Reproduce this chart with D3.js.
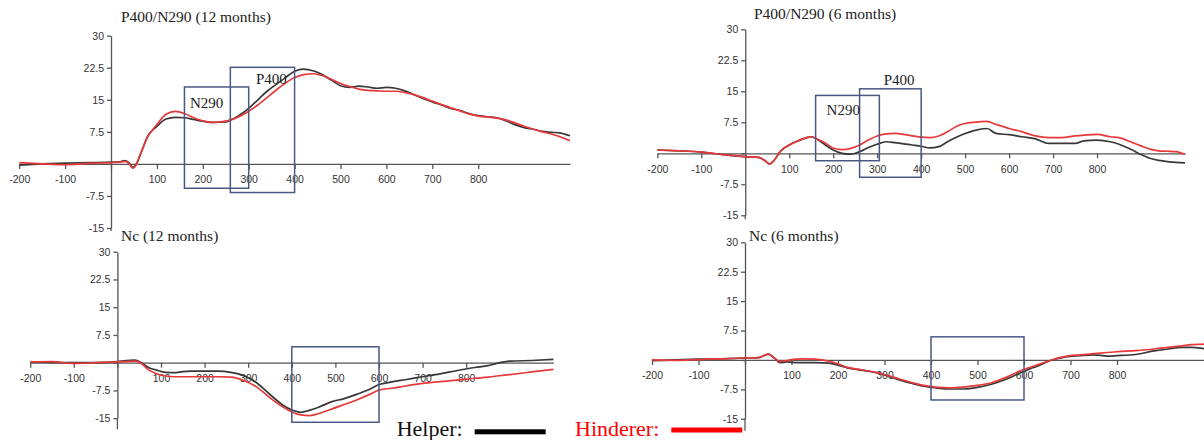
<!DOCTYPE html>
<html>
<head>
<meta charset="utf-8">
<script src="https://cdn.jsdelivr.net/npm/d3@7"></script>
<style>
body{margin:0;background:#fff;}
svg{display:block;}
</style>
</head>
<body>
<div id="chart"></div>
<script>

///////////////////////////////////////////////////////////////////////
// data (ms / microvolt)

let timeP12 = [-200,-150,-100,-50,0,20,30,40,47,55,65,80,100,120,140,160,180,200,220,250,260,280,300,320,340,360,380,400,
               420,440,460,480,500,520,540,560,580,600,620,640,660,680,700,720,740,760,780,800,820,840,860,880,900,920,940,960,980,1000];
let helperP12 = [-0.3,0,0.2,0.3,0.4,0.5,0.8,0.2,-0.8,0,2.5,6.5,8.8,10.5,10.9,10.8,10.4,10,9.7,9.8,10.2,11.4,13,15,17,18.6,20.2,21.7,
                 22.2,21.8,20.9,19.6,18.3,17.9,18.2,18,17.7,17.9,17.7,17.1,16.2,15.3,14.5,13.8,13,12.5,11.8,11.3,11,10.8,10.1,9.2,8.5,8.1,7.6,7.4,7.2,6.6];
let hindererP12 = [0.3,0,-0.2,0.1,0.3,0.4,0.6,0,-1,-0.2,2.5,6.3,9.2,11.6,12.3,11.8,10.8,10.1,9.7,10,10.3,11.1,12.3,13.8,15.5,17.3,18.9,20.2,
                   20.9,21.1,20.7,19.8,18.8,18.1,17.5,17.2,17.1,17,17,16.7,16.2,15.5,14.7,13.9,13.1,12.4,11.7,11.2,11,10.7,10.3,9.6,8.8,8.1,7.5,7,6.3,5.4];

let timeP6 = [-200,-150,-100,-50,0,30,45,55,65,80,100,120,140,150,165,180,200,220,240,260,280,300,320,340,360,380,400,420,440,460,480,500,520,
              550,570,600,630,660,690,720,750,770,800,830,850,880,900,920,940,960,980,1000];
let helperP6 = [0.8,0.6,0.3,-0.3,-0.8,-1,-1.8,-2.6,-1.8,0.5,2,3,3.8,4,3.3,2.2,0.8,0,-0.2,0.4,1.4,2.2,2.8,2.6,2.3,2,1.7,1.3,1.6,2.8,3.9,4.8,5.5,
                6,4.8,4.5,4,3.5,2.4,2.4,2.4,3,3.2,2.8,2.2,0.8,-0.3,-1.2,-1.7,-2,-2.2,-2.3];
let hindererP6 = [0.8,0.6,0.3,-0.3,-0.8,-1,-1.8,-2.6,-1.8,0.5,2,3,3.8,4,3.4,2.6,1.3,0.9,1.2,2,3.2,4.2,4.7,4.8,4.6,4.2,3.9,3.8,4.2,5.2,6.5,7.2,7.5,
                  7.7,7,6,5.2,4.2,3.8,3.8,4.2,4.4,4.6,4,3.8,2.6,1.8,1,0.6,0.5,0.4,-0.3];

let timeNc12 = [-200,-150,-100,-50,0,20,40,55,70,90,110,130,150,170,200,230,260,290,320,350,380,400,420,440,460,490,520,550,580,600,
                630,660,700,740,780,820,850,870,900,950,1000];
let helperNc12 = [0.2,0.1,0,0,0.3,0.6,0.7,0,-1.2,-2,-2.6,-2.7,-2.4,-2.3,-2.3,-2.3,-2.6,-3.5,-5.5,-8.6,-11.5,-12.8,-13.4,-12.9,-12.1,-10.6,-9.7,-8.5,-7.1,-5.9,
                  -5.2,-4.6,-3.8,-3,-2.1,-1.3,-0.8,-0.2,0.4,0.6,0.9];
let hindererNc12 = [0.2,0.3,-0.2,0,0.2,0.3,0.4,-0.2,-1.8,-3,-3.6,-3.8,-3.8,-3.8,-3.8,-3.8,-3.9,-4.8,-6.6,-9.5,-12,-13.3,-14.1,-14.3,-13.8,-12.6,-11.3,-10,-8.5,-7.4,
                    -6.9,-6.3,-5.6,-5.1,-4.7,-4.2,-3.9,-3.6,-3.2,-2.5,-1.8];

let timeNc6 = [-200,-150,-100,-50,0,30,50,65,75,90,100,120,150,180,200,220,250,280,300,330,360,390,410,440,470,500,530,560,590,610,
               630,660,690,720,750,780,800,840,880,910,940,960,980,1000];
let helperNc6 = [-0.2,0,0.2,0.3,0.5,0.6,1.5,0.3,-0.7,-0.5,-0.6,-0.7,-0.7,-0.8,-1.3,-2,-2.6,-3.2,-3.8,-5,-6,-6.8,-7.1,-7.4,-7.4,-7,-6.2,-5,-3.4,-2.4,
                 -1.5,0,0.8,1.1,1.3,1,1.1,1.4,2.3,2.8,3.2,3.2,3,2.6];
let hindererNc6 = [0,-0.1,0.1,0.3,0.5,0.6,1.5,0.3,-0.4,-0.2,0.1,0.3,0.2,-0.3,-1,-1.9,-2.5,-3.1,-3.7,-4.8,-5.8,-6.6,-6.9,-7.1,-6.9,-6.5,-5.8,-4.5,-2.9,-2,
                   -1.2,0,0.9,1.3,1.6,1.9,2.1,2.4,2.8,3.2,3.6,3.9,4,4.1];

// analysis windows (ms from/to, microvolt low/high)
let windowsP12 = [{name:"N290", from:160, to:300, low:-5.7, high:18}, {name:"P400", from:260, to:400, low:-6.7, high:22.6}];
let windowsP6 = [{name:"N290", from:160, to:305, low:-1.8, high:14}, {name:"P400", from:260, to:400, low:-5.8, high:15.6}];
let windowsNc12 = [{from:400, to:600, low:-16.1, high:4.3}];
let windowsNc6 = [{from:400, to:600, low:-10.2, high:5.9}];

// window names, anchored in data units
let labelsP12 = [{text:"N290", t:172, v:13.1}, {text:"P400", t:316, v:18.6}];
let labelsP6 = [{text:"N290", t:185, v:9.3}, {text:"P400", t:315, v:16.5}];

let xTickValues = [-200,-100,100,200,300,400,500,600,700,800];
let xTickMarks = [-200,-100,0,100,200,300,400,500,600,700,800];
let yTickValues = [-15,-7.5,0,7.5,15,22.5,30];
let seriesNames = ["Helper", "Hinderer"];
let seriesColors = ["#383838", "#e8383a"];

///////////////////////////////////////////////////////////////////////

let panels = [
    {title:"P400/N290 (12 months)", time:timeP12, series:[helperP12, hindererP12], windows:windowsP12, labels:labelsP12,
     xr:[19.2, 570], yr:[228, 35.7], yExt:3, titleX:121, titleY:22},
    {title:"P400/N290 (6 months)", time:timeP6, series:[helperP6, hindererP6], windows:windowsP6, labels:labelsP6,
     xr:[657.3, 1185], yr:[215.3, 29.3], yExt:4, titleX:754, titleY:19},
    {title:"Nc (12 months)", time:timeNc12, series:[helperNc12, hindererNc12], windows:windowsNc12, labels:[],
     xr:[30.2, 553.4], yr:[418.2, 251.7], yExt:11, titleX:121, titleY:241},
    {title:"Nc (6 months)", time:timeNc6, series:[helperNc6, hindererNc6], windows:windowsNc6, labels:[],
     xr:[652, 1210], yr:[418.8, 242.3], yExt:12, titleX:749, titleY:241}
];

let svg = d3.select("#chart")
            .append("svg")
            .attr("width", 1204)
            .attr("height", 440);

panels.forEach(function(p){
    let g = svg.append("g");

    let x = d3.scaleLinear().domain([-200, 1000]).range(p.xr);
    let y = d3.scaleLinear().domain([-15, 30]).range(p.yr);

    // x axis (zero line)
    let xAxis = g.append("g")
                 .attr("transform", "translate(0," + y(0) + ")")
                 .call(d3.axisBottom(x).tickValues(xTickMarks).tickSize(5).tickSizeOuter(0).tickPadding(7)
                         .tickFormat(function(d){ return xTickValues.indexOf(d) >= 0 ? d : ""; }));

    // y axis
    let yAxis = g.append("g")
                 .attr("transform", "translate(" + x(0) + ",0)")
                 .call(d3.axisLeft(y).tickValues(yTickValues).tickSize(4).tickSizeOuter(0).tickPadding(3)
                         .tickFormat(function(d){ return d === 0 ? "" : d; }));

    g.append("line")
     .attr("x1", x(0)).attr("x2", x(0))
     .attr("y1", y(-15)).attr("y2", y(-15) + p.yExt)
     .attr("stroke", "#555").attr("stroke-width", 1.3);

    [xAxis, yAxis].forEach(function(a){
        a.selectAll("path, line").attr("stroke", "#555").attr("stroke-width", 1.3);
        a.selectAll("text")
         .attr("fill", "#333")
         .style("font-family", "'Liberation Sans', Arial, sans-serif")
         .style("font-size", "10.5px");
    });

    // curves
    let line = d3.line()
                 .x(function(d){ return x(d[0]); })
                 .y(function(d){ return y(d[1]); })
                 .curve(d3.curveMonotoneX);

    p.series.forEach(function(values, i){
        g.append("path")
         .datum(p.time.map(function(t, j){ return [t, values[j]]; }))
         .attr("d", line)
         .attr("fill", "none")
         .attr("stroke", seriesColors[i])
         .attr("stroke-width", 1.7)
         .attr("stroke-linejoin", "round");
    });

    // windows
    g.selectAll("rect.win")
     .data(p.windows)
     .enter()
     .append("rect")
     .attr("class", "win")
     .attr("x", function(d){ return x(d.from); })
     .attr("y", function(d){ return y(d.high); })
     .attr("width", function(d){ return x(d.to) - x(d.from); })
     .attr("height", function(d){ return y(d.low) - y(d.high); })
     .attr("fill", "none")
     .attr("stroke", "#4a5884")
     .attr("stroke-width", 1.5);

    g.selectAll("text.win")
     .data(p.labels)
     .enter()
     .append("text")
     .attr("class", "win")
     .attr("x", function(d){ return x(d.t); })
     .attr("y", function(d){ return y(d.v); })
     .attr("fill", "#222")
     .style("font-family", "'Liberation Serif', 'Times New Roman', serif")
     .style("font-size", "15px")
     .text(function(d){ return d.text; });

    g.append("text")
     .attr("x", p.titleX)
     .attr("y", p.titleY)
     .attr("fill", "#222")
     .style("font-family", "'Liberation Serif', 'Times New Roman', serif")
     .style("font-size", "15.5px")
     .text(p.title);
});

///////////////////////////////////////////////////////////////////////
// legend

let legendX = [396.7, 575];
let legend = svg.append("g");

seriesNames.forEach(function(name, i){
    let t = legend.append("text")
                  .attr("x", legendX[i])
                  .attr("y", 436)
                  .attr("fill", i === 0 ? "#111" : "#ff0000")
                  .style("font-family", "'Liberation Serif', 'Times New Roman', serif")
                  .style("font-size", "22px")
                  .text(name + ":");
    let w = t.node().getComputedTextLength();
    legend.append("rect")
          .attr("x", legendX[i] + w + 12)
          .attr("y", i === 0 ? 429.3 : 427.5)
          .attr("width", 71)
          .attr("height", 5)
          .attr("fill", i === 0 ? "#000" : "#ff0000");
});

</script>
</body>
</html>
